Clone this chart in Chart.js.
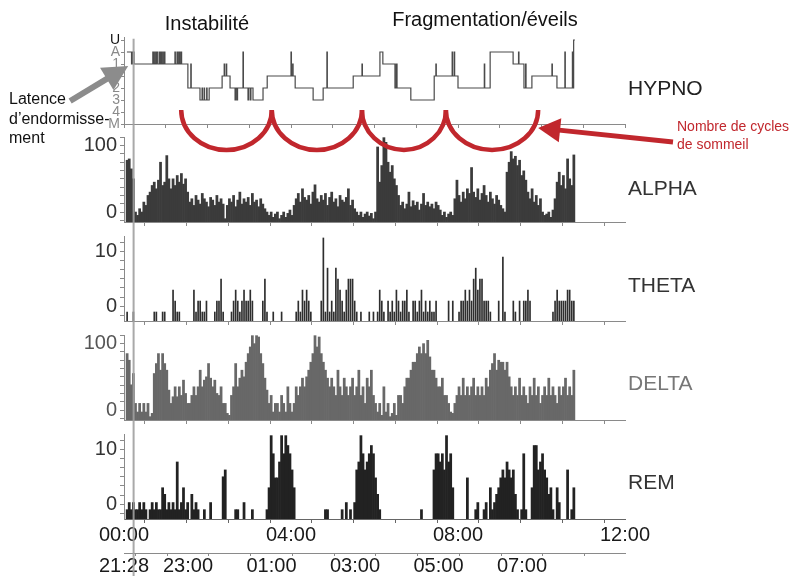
<!DOCTYPE html>
<html><head><meta charset="utf-8">
<script src="https://cdn.jsdelivr.net/npm/chart.js@4"></script>
<style>
html,body{margin:0;padding:0;background:#fff;}
#wrap{position:relative;width:805px;height:576px;overflow:hidden;font-family:"Liberation Sans",Arial,Helvetica,sans-serif;background:#fff;}
#wrap canvas{position:absolute;left:0;top:0;}
.t{position:absolute;white-space:nowrap;line-height:1;transform:translateY(-50%);}
.c{transform:translate(-50%,-50%);}
</style></head><body>
<div id="wrap">
<canvas id="cAlpha" width="805" height="576"></canvas>
<canvas id="cTheta" width="805" height="576"></canvas>
<canvas id="cDelta" width="805" height="576"></canvas>
<canvas id="cRem" width="805" height="576"></canvas>
<canvas id="cHypno" width="805" height="576"></canvas>
<div class="t c" style="left:207px;top:23px;font-size:20px;color:#111;">Instabilité</div>
<div class="t c" style="left:485px;top:19px;font-size:20px;color:#111;">Fragmentation/éveils</div>
<div class="t" style="left:628px;top:87px;font-size:21px;color:#222;">HYPNO</div>
<div class="t" style="left:628px;top:187px;font-size:21px;color:#333;">ALPHA</div>
<div class="t" style="left:628px;top:284px;font-size:21px;color:#333;">THETA</div>
<div class="t" style="left:628px;top:382px;font-size:21px;color:#777;">DELTA</div>
<div class="t" style="left:628px;top:481px;font-size:21px;color:#333;">REM</div>
<div class="t" style="left:9px;top:99px;font-size:16px;color:#111;">Latence</div>
<div class="t" style="left:9px;top:119px;font-size:16px;color:#111;">d’endormisse-</div>
<div class="t" style="left:9px;top:138px;font-size:16px;color:#111;">ment</div>
<div class="t" style="left:677px;top:126px;font-size:14px;color:#c1272d;">Nombre de cycles</div>
<div class="t" style="left:677px;top:144px;font-size:14px;color:#c1272d;">de sommeil</div>
</div>
<script>
const _ = null;
const FONT = '"Liberation Sans", Arial, Helvetica, sans-serif';
const BIN_H = 0.05;          // hours per histogram bin
const N_BINS = 216;
const X_MAX = 12;            // elapsed hours on the axis

// ---- hypnogram: stage changes (hours since start) ----
const stageLabels = ['M','4','3','2','','1','A','U'];
const hypnoTimes = [0.07,0.18,0.20,0.24,0.69,0.71,0.74,0.75,0.78,0.81,
  0.85,0.86,0.88,0.90,0.93,0.94,0.97,0.98,1.22,1.23,
  1.27,1.29,1.32,1.33,1.36,1.38,1.53,1.60,1.61,1.82,
  1.87,1.88,1.92,1.93,1.98,1.99,2.04,2.35,2.40,2.41,
  2.45,2.46,2.54,2.66,2.68,2.71,2.72,2.85,2.86,2.97,
  2.99,3.03,3.04,3.09,3.33,3.43,4.00,4.01,4.04,4.05,
  4.10,4.53,4.77,4.86,4.87,5.49,5.70,5.71,6.13,6.20,
  6.49,6.52,6.54,6.87,7.43,7.47,7.48,7.86,7.87,7.91,
  7.92,8.00,8.63,8.64,8.77,9.32,9.45,9.46,9.58,9.62,
  9.63,9.77,10.25,10.26,10.37,10.56,10.57,10.74,10.75,10.77,
  10.80];
const hypnoStages = [6,5,6,5,6,5,6,5,6,5,
  6,5,6,5,6,5,6,5,6,5,
  6,5,6,5,6,5,3,5,3,2,
  3,2,3,2,3,2,3,4,5,4,
  5,4,3,2,3,2,3,6,3,2,
  3,2,3,2,3,4,6,4,5,4,
  3,2,3,6,3,4,5,4,6,5,
  3,5,3,2,4,5,4,6,4,6,
  4,3,5,3,6,5,6,5,3,5,
  3,4,5,4,3,6,3,6,3,7,
  7];

// ---- spectral histograms (one value per 3-min bin) ----
const alphaVals = [
  _,78,80,65,50,
  0,-5,5,0,15,
  10,25,30,
  40,45,35,48,75,40,45,85,50,35,50,40,55,45,58,42,50,30,
  15,20,10,25,18,12,28,20,15,8,22,18,10,25,15,20,12,
  -10,
  10,20,15,25,8,18,30,12,20,15,22,10,28,15,18,8,20,12,5,0,
  -5,0,-8,-3,0,-10,-5,0,-8,-2,3,-5,
  10,20,28,15,35,22,18,25,12,30,41,20,15,25,18,28,10,22,30,15,20,8,25,18,
  15,22,35,10,18,5,0,
  -5,0,-8,-3,0,-6,-2,-10,0,
  98,45,70,112,105,75,60,70,50,40,25,
  10,15,5,12,30,8,17,10,15,3,12,28,10,15,8,12,5,15,10,3,
  -5,0,-8,-3,0,-5,
  20,48,25,15,30,20,35,28,67,30,22,35,18,28,40,25,15,30,20,12,25,18,10,5,0,
  60,75,91,80,84,70,78,55,62,48,
  30,20,35,15,25,10,20,
  0,-5,-3,0,-8,3,
  20,45,60,40,55,35,80,50,40,86];

const thetaVals = [
  _,-1,_,_,-1,_,_,_,_,_,
  _,_,_,_,-1,-1,_,_,-1,-1,
  _,_,_,3,1,-1,-1,_,_,_,
  _,_,_,3,-1,1,1,-1,-1,1,
  _,_,_,-1,1,1,5,-1,_,_,
  _,-1,1,3,1,-1,1,3,1,1,
  3,1,_,_,_,_,1,5,-1,_,
  _,-1,_,_,_,-1,_,_,_,_,
  _,_,-1,1,-1,3,1,3,1,-1,
  _,_,_,_,1,12.5,-1,7,-1,1,
  -1,7,5,3,1,-1,3,5,5,5,
  1,-1,_,-1,_,_,_,-1,_,-1,
  _,-1,3,1,-1,_,1,-1,1,-1,
  3,1,-1,1,1,3,-1,_,1,1,
  -1,1,3,-1,1,-1,1,-1,-1,1,
  _,_,_,_,_,1,_,1,_,_,
  -1,1,1,3,1,3,1,5,7,3,
  5,5,1,1,1,-1,_,_,_,1,
  _,9,-1,_,_,_,1,-1,_,1,
  _,1,1,3,1,_,_,_,_,_,
  _,_,_,_,_,-1,1,3,1,1,
  1,1,3,3,1,1];

const deltaVals = [
  _,85,75,38,55,
  10,-3,10,-3,10,-3,10,-10,-5,
  55,70,85,60,85,70,60,
  30,10,20,35,20,35,22,45,25,10,
  10,22,35,22,35,60,35,45,50,70,48,35,45,25,22,35,10,10,-5,
  -8,
  22,35,70,35,48,60,50,72,85,95,112,100,112,110,85,70,48,30,
  10,22,-3,10,10,-3,22,10,-3,35,10,-3,10,
  35,22,35,48,35,50,60,72,85,112,95,110,85,72,60,48,35,48,35,
  22,60,35,22,48,35,22,35,48,22,35,60,22,35,10,48,35,60,22,10,
  -3,10,-8,35,-3,10,-10,-5,10,-8,
  22,22,10,35,48,48,60,72,72,85,95,85,100,85,105,80,60,60,48,35,35,48,22,22,10,-3,
  -5,10,
  22,35,22,48,22,35,22,35,48,22,35,22,35,22,48,35,60,
  70,85,60,75,72,72,60,72,50,
  35,22,35,22,48,22,35,22,10,35,22,48,22,35,10,22,35,22,48,22,35,22,10,35,22,35,48,22,35,22,60];

const remVals = [
  _,-1,0.3,-1,0.3,-1,-1,0.3,-1,0.3,
  -1,_,-1,0.3,-1,0.3,-1,-1,3,1.8,
  -1,0.3,-1,0.3,-1,7.7,-1,0.3,3,-1,
  0.3,_,1.8,-1,0.3,-1,_,_,-1,_,
  _,0.3,_,_,_,_,_,5,6.25,_,
  _,_,_,-1,-1,_,_,0.3,_,_,
  _,-1,_,_,_,_,_,_,-1,3,
  12.5,9.2,4.8,4.8,7.7,12.5,9.2,12.5,10.7,9.2,
  6.25,3,_,_,_,_,_,_,_,_,
  _,_,_,_,_,_,-1,-1,_,_,
  _,_,_,_,-1,_,0.3,_,-1,_,
  0.3,6.25,7.7,12.5,9.2,6.25,7.7,9.2,10.7,9.2,
  4.8,1.8,-1,_,_,_,_,_,_,_,
  _,_,_,_,_,_,_,_,_,_,
  _,_,-1,_,_,_,_,_,6.25,9.2,
  9.2,7.7,9.2,6.25,12.5,7.7,9.2,3,_,_,
  _,_,_,_,4.8,_,_,_,-1,0.3,
  _,_,-1,0.3,_,3,-1,0.3,1.8,3,
  4.8,6.25,4.8,7.7,6.25,4.8,6.25,1.8,-1,_,
  -1,9.2,-1,_,_,3,10.7,10.7,6.25,7.7,
  9.2,6.25,4.8,1.8,3,-1,_,3,0.3,_,
  _,_,6.25,_,-1,3];

[['alpha',alphaVals],['theta',thetaVals],['delta',deltaVals],['rem',remVals]].forEach(([n,a])=>{
  if (a.length !== N_BINS) throw new Error(n + ' length ' + a.length);
});
if (hypnoTimes.length !== hypnoStages.length) throw new Error('hypno ' + hypnoTimes.length + ' ' + hypnoStages.length);

// ---- axes / annotations ----
const elapsedLabelHours = [0,4,8,12];
const clockStartLabel = '21:28';
const clockStartMin = 21*60+28;
const clockLabels = ['23:00','01:00','03:00','05:00','07:00'];
const onsetH = 0.23;                       // sleep onset (grey vertical line)
const cycleBoundsH = [1.37,3.54,5.70,7.71,9.92];
const cycleArcTopStage = 1.17;
const latencyArrow = {tail:[-1.29,1.92], tip:[0.10,4.83]};
const cyclesArrow = {tail:[13.15,-1.5], tip:[9.92,-0.33]};

const W = 805, H = 576, LEFT = 124, RIGHT_PAD = 805 - 625;
Chart.defaults.font.family = FONT;

const hourTicks = [0,1,2,3,4,5,6,7,8,9,10,11,12];
function fixY(w){ return s => { s.width = w; s.paddingTop = 0; s.paddingBottom = 0; }; }
function fixX(h){ return s => { s.height = h; s.paddingLeft = 0; s.paddingRight = 0; }; }
function pad2(n){ return (n<10?'0':'') + n; }

function baseX(extra){
  return Object.assign({
    type:'linear', min:0, max:X_MAX, offset:false,
    grid:{drawOnChartArea:false, drawTicks:true, tickLength:4, color:'#8a8a8a'},
    border:{color:'#8a8a8a', width:1},
    ticks:{display:false},
    afterBuildTicks: s => { s.ticks = hourTicks.map(v=>({value:v})); },
    afterFit: fixX(4)
  }, extra||{});
}

function panel(id, vals, o){
  const data = vals.map((v,i)=>({x:(i+0.5)*BIN_H, y:v}));
  const scales = {
    x: baseX(o.x),
    y: {
      min:o.min, max:o.max,
      afterBuildTicks: s => { s.ticks = o.tickVals.map(v=>({value:v})); },
      ticks:{autoSkip:false, font:{size:20}, color:o.labelColor, padding:3,
        callback:(v)=> o.labelVals.indexOf(v) >= 0 ? String(v) : ''},
      grid:{drawOnChartArea:false, tickLength:4, color:'#8a8a8a'},
      border:{color:'#8a8a8a', width:1},
      afterFit: fixY(LEFT)
    }
  };
  if (o.x2) scales.x2 = o.x2;
  return new Chart(document.getElementById(id), {
    type:'bar',
    data:{datasets:[{data, backgroundColor:o.color, borderWidth:0, base:o.min,
      barPercentage:o.bp, categoryPercentage:1, grouped:false}]},
    options:{
      responsive:false, animation:false, devicePixelRatio:1,
      layout:{padding:{left:0, right:RIGHT_PAD, top:o.top, bottom:H - o.bottom - o.xh}},
      plugins:{legend:{display:false}, tooltip:{enabled:false}},
      scales
    }
  });
}

const bigTicks = [-12.5,0,12.5,25,37.5,50,62.5,75,87.5,100,112.5];
const smallTicks = [-1.667,0,1.667,3.333,5,6.667,8.333,10,11.667];

panel('cAlpha', alphaVals, {top:137,bottom:222,xh:4,min:-15,max:113,tickVals:bigTicks,labelVals:[0,100],labelColor:'#333',color:'#3b3b3b',bp:1});
panel('cTheta', thetaVals, {top:236,bottom:321,xh:4,min:-2.7,max:12.8,tickVals:smallTicks,labelVals:[0,10],labelColor:'#333',color:'#2e2e2e',bp:0.8});
panel('cDelta', deltaVals, {top:335,bottom:420,xh:4,min:-15,max:113,tickVals:bigTicks,labelVals:[0,100],labelColor:'#555',color:'#686868',bp:1});

// clock axis ticks: start time + every full hour
const firstFull = (Math.ceil(clockStartMin/60)*60 - clockStartMin)/60;
const clockTicks = [0];
for (let h = firstFull; h <= X_MAX; h += 1) clockTicks.push(h);
function clockText(h){
  if (h === 0) return clockStartLabel;
  const m = Math.round(clockStartMin + h*60) % 1440;
  const s = pad2(Math.floor(m/60)) + ':' + pad2(m%60);
  return clockLabels.indexOf(s) >= 0 ? s : '';
}

panel('cRem', remVals, {top:434,bottom:519,xh:57,min:-2.7,max:12.8,tickVals:smallTicks,labelVals:[0,10],labelColor:'#333',color:'#222',bp:1,
  x:{
    grid:{drawOnChartArea:false, drawTicks:true, tickLength:4, color:'#666'},
    border:{color:'#666', width:1},
    ticks:{display:true, autoSkip:false, maxRotation:0, font:{size:20}, color:'#1a1a1a', padding:0,
      callback:(v)=> elapsedLabelHours.indexOf(v) >= 0 ? pad2(v) + ':00' : ''},
    afterFit: fixX(34)
  },
  x2:{
    type:'linear', position:'bottom', weight:1, min:0, max:X_MAX, offset:false,
    grid:{drawOnChartArea:false, drawTicks:true, tickLength:3, color:'#8a8a8a'},
    border:{color:'#8a8a8a', width:1},
    afterBuildTicks: s => { s.ticks = clockTicks.map(v=>({value:v})); },
    ticks:{autoSkip:false, maxRotation:0, font:{size:20}, color:'#1a1a1a', padding:-2,
      callback:(v)=> clockText(v)},
    afterFit: fixX(23)
  }
});

// ---- hypnogram + annotations ----
function drawArrow(ctx,x1,y1,x2,y2,color,lw,headLen,headW){
  const a = Math.atan2(y2-y1, x2-x1);
  const bx = x2 - headLen*Math.cos(a), by = y2 - headLen*Math.sin(a);
  ctx.strokeStyle = color; ctx.lineWidth = lw; ctx.lineCap = 'butt';
  ctx.beginPath(); ctx.moveTo(x1,y1); ctx.lineTo(bx+Math.cos(a),by+Math.sin(a)); ctx.stroke();
  ctx.fillStyle = color; ctx.beginPath(); ctx.moveTo(x2,y2);
  ctx.lineTo(bx + headW/2*Math.sin(a), by - headW/2*Math.cos(a));
  ctx.lineTo(bx - headW/2*Math.sin(a), by + headW/2*Math.cos(a));
  ctx.closePath(); ctx.fill();
}
const annot = {
  id:'annot',
  afterDraw(chart){
    const ctx = chart.ctx, x = chart.scales.x, y = chart.scales.y;
    ctx.save();
    // sleep onset line
    const xo = x.getPixelForValue(onsetH);
    ctx.strokeStyle = 'rgba(160,160,160,0.9)'; ctx.lineWidth = 2;
    ctx.beginPath(); ctx.moveTo(xo, y.getPixelForValue(7.1)); ctx.lineTo(xo, H); ctx.stroke();
    // cycle arcs
    const ya = y.getPixelForValue(cycleArcTopStage);
    ctx.strokeStyle = '#c1272d'; ctx.lineWidth = 4.5;
    for (let k = 0; k < cycleBoundsH.length-1; k++){
      const xa = x.getPixelForValue(cycleBoundsH[k]), xb = x.getPixelForValue(cycleBoundsH[k+1]);
      ctx.beginPath(); ctx.ellipse((xa+xb)/2, ya, (xb-xa)/2, 40, 0, 0, Math.PI); ctx.stroke();
    }
    drawArrow(ctx, x.getPixelForValue(latencyArrow.tail[0]), y.getPixelForValue(latencyArrow.tail[1]),
      x.getPixelForValue(latencyArrow.tip[0]), y.getPixelForValue(latencyArrow.tip[1]), '#8c8c8c', 6, 25, 26);
    drawArrow(ctx, x.getPixelForValue(cyclesArrow.tail[0]), y.getPixelForValue(cyclesArrow.tail[1]),
      x.getPixelForValue(cyclesArrow.tip[0]), y.getPixelForValue(cyclesArrow.tip[1]), '#c1272d', 5, 22, 24);
    ctx.restore();
  }
};

new Chart(document.getElementById('cHypno'), {
  type:'line',
  data:{datasets:[{data: hypnoTimes.map((t,i)=>({x:t, y:hypnoStages[i]})),
    stepped:'before', borderColor:'#4a4a4a', borderWidth:1.2, pointRadius:0, fill:false}]},
  options:{
    responsive:false, animation:false, devicePixelRatio:1,
    layout:{padding:{left:0, right:RIGHT_PAD, top:37, bottom:H-124-4}},
    plugins:{legend:{display:false}, tooltip:{enabled:false}},
    scales:{
      x: baseX(),
      y:{min:0, max:7.25,
        afterBuildTicks: s => { s.ticks = stageLabels.map((l,i)=>({value:i})); },
        ticks:{autoSkip:false, font:{size:14}, padding:1,
          color:(c)=> c.tick && c.tick.value === 7 ? '#111' : '#8a8a8a',
          callback:(v)=> stageLabels[v]},
        grid:{drawOnChartArea:false, tickLength:3, color:'#8a8a8a'},
        border:{color:'#8a8a8a', width:1},
        afterFit: fixY(LEFT)
      }
    }
  },
  plugins:[annot]
});
</script>
</body></html>
